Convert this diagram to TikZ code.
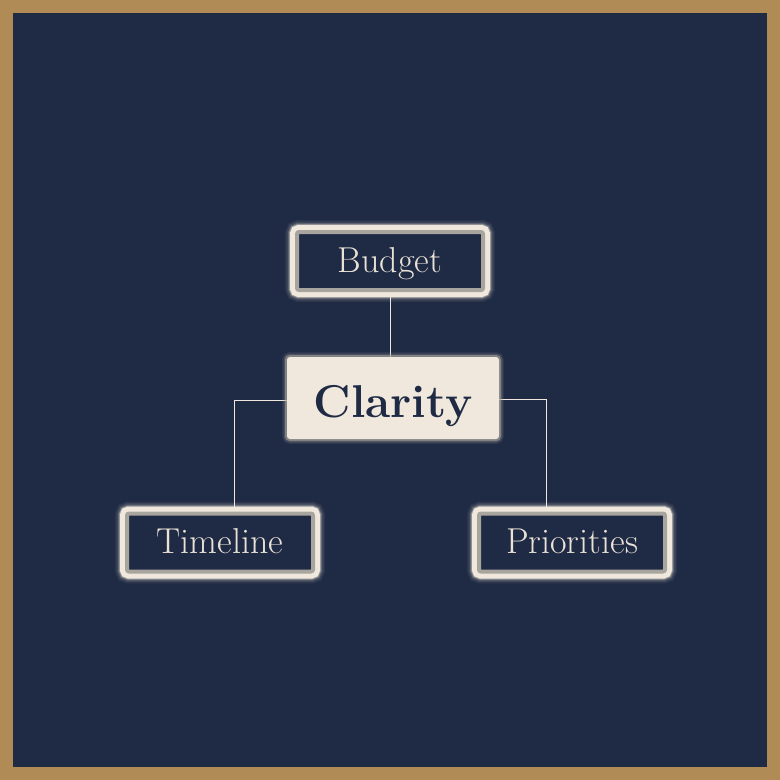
\documentclass[tikz,border=0pt]{standalone}
\definecolor{navy}{HTML}{1F2A44}
\definecolor{cream}{HTML}{F0E8DC}
\definecolor{label}{HTML}{EAE2D6}
\definecolor{gold}{HTML}{B18B56}
\definecolor{shade}{HTML}{A8A49E}
\pgfdeclarelayer{bg}
\pgfdeclarelayer{links}
\pgfsetlayers{bg,links,main}
\tikzset{
  glowbox/.style={rectangle, fill=navy, draw=shade, line width=4pt, inner sep=0pt,
    rounded corners=2pt, text height=29pt, text depth=7pt,
    minimum width=186pt, minimum height=58pt, text=label, font=\fontsize{36}{40}\selectfont,
    preaction={draw=cream, line width=24pt, opacity=0.06},
    preaction={draw=cream, line width=21pt, opacity=0.10},
    preaction={draw=cream, line width=18pt, opacity=0.18},
    preaction={draw=cream, line width=16pt, opacity=0.35},
    preaction={draw=cream, line width=14pt, opacity=1}},
  mainbox/.style={rectangle, fill=cream, inner sep=0pt, rounded corners=3pt,
    text height=46pt, text depth=8pt,
    minimum width=212pt, minimum height=82pt, text=navy, font=\fontsize{46}{50}\selectfont\bfseries,
    preaction={draw=shade, line width=10pt, opacity=0.10, rounded corners=5pt},
    preaction={draw=shade, line width=7pt, opacity=0.25, rounded corners=4pt},
    preaction={draw=shade, line width=4pt, opacity=0.6, rounded corners=3pt}},
  link/.style={draw=cream, line width=0.8pt}
}
\begin{document}
\begin{tikzpicture}[x=1pt,y=-1pt]
\begin{pgfonlayer}{bg}
\fill[gold] (0,0) rectangle (780,780);
\fill[navy] (13,13) rectangle (767,767);
\end{pgfonlayer}
\useasboundingbox (0,0) rectangle (780,780);
\node[glowbox] (b) at (390,261) {Budget};
\node[mainbox] (c) at (393,398) {Clarity};
\node[glowbox] (t) at (220,542.5) {Timeline};
\node[glowbox] (p) at (572,542.5) {Priorities};
\coordinate (tl) at (234,507);
\coordinate (pr) at (546,507);
\begin{pgfonlayer}{links}
\draw[link] (b.south -| 390,0) -- (c.north -| 390,0);
\draw[link] (c.west |- 0,400) -| (tl);
\draw[link] (c.east |- 0,399) -| (pr);
\end{pgfonlayer}
\end{tikzpicture}
\end{document}
